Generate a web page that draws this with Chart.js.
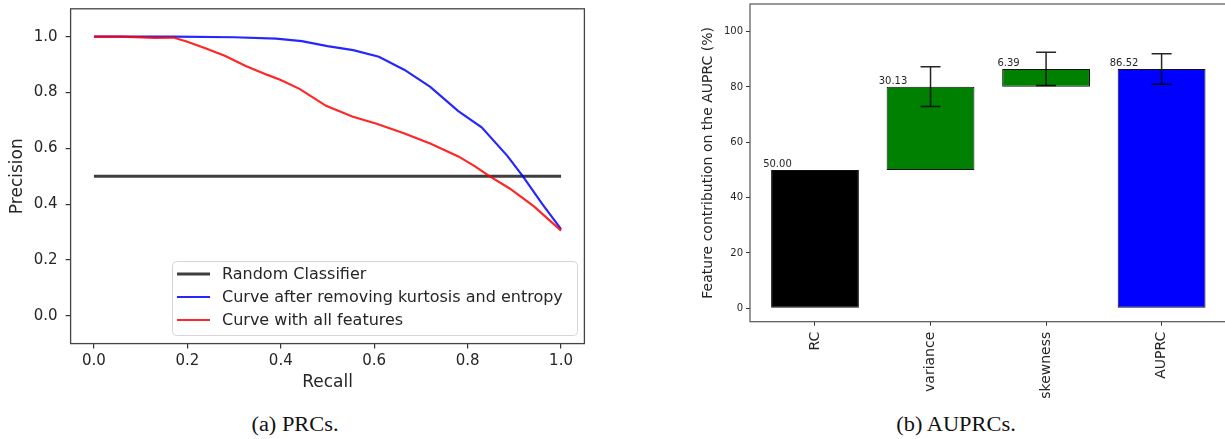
<!DOCTYPE html>
<html><head><meta charset="utf-8">
<script src="https://cdn.jsdelivr.net/npm/chart.js@4.4.1/dist/chart.umd.min.js"></script>
<style>
html,body{margin:0;padding:0;background:#fff;overflow:hidden;width:1225px;height:439px;}
#ca{position:absolute;left:0;top:0;}
#cb{position:absolute;left:690px;top:0;}
.cap{position:absolute;top:411px;width:220px;text-align:center;font-family:"Liberation Serif","Times New Roman",serif;font-size:20px;line-height:26px;color:#111;white-space:nowrap;transform:scaleX(1.12);}
</style></head><body>
<canvas id="ca" width="600" height="400"></canvas>
<canvas id="cb" width="545" height="400"></canvas>
<div class="cap" style="left:185px">(a) PRCs.</div>
<div class="cap" style="left:846px">(b) AUPRCs.</div>
<script>
// ---------- (a) PRC data ----------
const rcRecall = [0, 1];
const rcPrecision = [0.5, 0.5];
const blueRecall = [0, 0.17, 0.30, 0.39, 0.445, 0.50, 0.555, 0.61, 0.665, 0.72, 0.78, 0.83, 0.885, 0.918, 0.96, 1.0];
const bluePrecision = [1.0, 1.0, 0.998, 0.993, 0.984, 0.966, 0.952, 0.928, 0.881, 0.82, 0.733, 0.675, 0.573, 0.5, 0.4, 0.31];
const redRecall = [0, 0.06, 0.13, 0.17, 0.20, 0.24, 0.28, 0.325, 0.37, 0.40, 0.44, 0.497, 0.553, 0.605, 0.662, 0.72, 0.78, 0.815, 0.845, 0.89, 0.942, 1.0];
const redPrecision = [1.0, 1.0, 0.996, 0.997, 0.982, 0.958, 0.932, 0.895, 0.864, 0.845, 0.813, 0.752, 0.714, 0.688, 0.655, 0.617, 0.571, 0.536, 0.502, 0.456, 0.392, 0.305];
const seriesLabels = ['Random Classifier', 'Curve after removing kurtosis and entropy', 'Curve with all features'];
const prTicks = [0, 0.2, 0.4, 0.6, 0.8, 1.0];

// ---------- (b) AUPRC data ----------
const categories = ['RC', 'variance', 'skewness', 'AUPRC'];
const contributions = [50.00, 30.13, 6.39, 86.52];
const errors = [0, 7.2, 6.0, 5.5];
const barColors = ['#000000', '#008000', '#008000', '#0000ff'];
const aucTicks = [0, 20, 40, 60, 80, 100];

const FONT = 'DejaVu Sans';
const TXT = '#262626';

function pts(xs, ys){ return xs.map((x,i)=>({x:x, y:ys[i]})); }
function fixV(w){ return s => { s.width = w; s.paddingTop = 0; s.paddingBottom = 0; s.paddingLeft = 0; s.paddingRight = 0; }; }
function fixH(h){ return s => { s.height = h; s.paddingTop = 0; s.paddingBottom = 0; s.paddingLeft = 0; s.paddingRight = 0; }; }
function setTicks(vals){ return s => { s.ticks = vals.map(v => ({value: v})); }; }

const framePlugin = {
  id: 'frame',
  afterDatasetsDraw(chart, args, opts){
    const {ctx, chartArea: a} = chart;
    ctx.save();
    ctx.strokeStyle = opts.color || '#333';
    ctx.lineWidth = opts.width || 1;
    ctx.strokeRect(a.left, a.top, a.right - a.left, a.bottom - a.top);
    ctx.restore();
  }
};

const legendPlugin = {
  id: 'boxLegend',
  afterDraw(chart){
    const {ctx, chartArea: a} = chart;
    const w = 405, h = 74;
    const x0 = a.right - 7.4 - w, y0 = a.bottom - 8.6 - h;
    ctx.save();
    ctx.fillStyle = 'rgba(255,255,255,0.85)';
    ctx.strokeStyle = '#d6d6d6';
    ctx.lineWidth = 1;
    ctx.beginPath();
    ctx.roundRect(x0 + 0.5, y0 + 0.5, w, h, 4);
    ctx.fill(); ctx.stroke();
    ctx.font = '16px "' + FONT + '"';
    ctx.textBaseline = 'middle';
    chart.data.datasets.forEach((ds, i) => {
      const y = y0 + 13 + i * 23;
      ctx.strokeStyle = ds.borderColor;
      ctx.lineWidth = ds.borderWidth;
      ctx.beginPath(); ctx.moveTo(x0 + 5, y); ctx.lineTo(x0 + 38, y); ctx.stroke();
      ctx.fillStyle = TXT;
      ctx.fillText(ds.label, x0 + 50, y + 1);
    });
    ctx.restore();
  }
};

new Chart(document.getElementById('ca'), {
  type: 'line',
  data: {
    datasets: [
      {label: seriesLabels[0], data: pts(rcRecall, rcPrecision), borderColor: 'rgba(20,20,20,0.82)', borderWidth: 3, order: 2},
      {label: seriesLabels[1], data: pts(blueRecall, bluePrecision), borderColor: 'rgba(0,0,255,0.85)', borderWidth: 2.2, order: 1},
      {label: seriesLabels[2], data: pts(redRecall, redPrecision), borderColor: 'rgba(255,0,0,0.85)', borderWidth: 2.2, order: 0}
    ]
  },
  options: {
    responsive: false, animation: false, devicePixelRatio: 1,
    layout: {padding: {left: 0, top: 8.8, right: 15.6, bottom: 0}},
    elements: {point: {radius: 0}, line: {tension: 0, fill: false}},
    plugins: {legend: {display: false}, tooltip: {enabled: false}, frame: {color: '#444', width: 1.3}},
    scales: {
      x: {
        type: 'linear', min: -0.05, max: 1.05,
        afterBuildTicks: setTicks(prTicks), afterFit: fixH(56.4),
        ticks: {callback: v => Number(v).toFixed(1), font: {family: FONT, size: 15}, color: TXT, padding: 4, maxRotation: 0, autoSkip: false},
        grid: {drawOnChartArea: false, drawTicks: true, tickLength: 5, color: '#333', lineWidth: 1.2},
        border: {display: false},
        title: {display: true, text: 'Recall', font: {family: FONT, size: 17}, color: TXT, padding: {top: 0, bottom: 6.8}}
      },
      y: {
        type: 'linear', min: -0.1, max: 1.1,
        afterBuildTicks: setTicks(prTicks), afterFit: fixV(70.6),
        ticks: {callback: v => Number(v).toFixed(1), font: {family: FONT, size: 15}, color: TXT, padding: 8, autoSkip: false},
        grid: {drawOnChartArea: false, drawTicks: true, tickLength: 5, color: '#333', lineWidth: 1.2},
        border: {display: false},
        title: {display: true, text: 'Precision', font: {family: FONT, size: 17}, color: TXT, padding: {top: 7.8, bottom: 0}}
      }
    }
  },
  plugins: [framePlugin, legendPlugin]
});

// waterfall build
const bars = [];
let acc = 0;
for (let i = 0; i < contributions.length; i++) {
  if (i === contributions.length - 1) { bars.push({x: i, y: [0, contributions[i]]}); }
  else { bars.push({x: i, y: [acc, acc + contributions[i]]}); acc += contributions[i]; }
}

const errPlugin = {
  id: 'errs',
  afterDatasetsDraw(chart){
    const {ctx, scales: {x, y}} = chart;
    ctx.save();
    bars.forEach((b, i) => {
      const top = b.y[1];
      ctx.fillStyle = TXT;
      ctx.font = '10px "' + FONT + '"';
      ctx.textAlign = 'center';
      ctx.textBaseline = 'alphabetic';
      ctx.fillText(contributions[i].toFixed(2), x.getPixelForValue(i - 0.325), y.getPixelForValue(top + 1));
      if (!errors[i]) return;
      const px = x.getPixelForValue(i);
      const y1 = y.getPixelForValue(top + errors[i]);
      const y2 = y.getPixelForValue(top - errors[i]);
      ctx.strokeStyle = 'rgba(0,0,0,0.85)';
      ctx.lineWidth = 1.5;
      ctx.beginPath();
      ctx.moveTo(px, y1); ctx.lineTo(px, y2);
      ctx.moveTo(px - 10, y1); ctx.lineTo(px + 10, y1);
      ctx.moveTo(px - 10, y2); ctx.lineTo(px + 10, y2);
      ctx.stroke();
    });
    ctx.restore();
  }
};

new Chart(document.getElementById('cb'), {
  type: 'bar',
  data: {
    datasets: [{
      data: bars, backgroundColor: barColors, borderColor: '#111', borderWidth: 1, borderSkipped: false,
      barPercentage: 0.76, categoryPercentage: 1.0
    }]
  },
  options: {
    responsive: false, animation: false, devicePixelRatio: 1,
    layout: {padding: {left: 0, top: 4, right: 8.4, bottom: 0}},
    plugins: {legend: {display: false}, tooltip: {enabled: false}, frame: {color: '#555', width: 1.2}},
    scales: {
      x: {
        type: 'linear', min: -0.5625, max: 3.5625, offset: false,
        afterBuildTicks: setTicks([0, 1, 2, 3]), afterFit: fixH(78.3),
        ticks: {callback: v => categories[Math.round(v)], font: {family: FONT, size: 14}, color: TXT, padding: 6, minRotation: 90, maxRotation: 90, autoSkip: false},
        grid: {offset: false, drawOnChartArea: false, drawTicks: true, tickLength: 4, color: '#333', lineWidth: 1},
        border: {display: false}
      },
      y: {
        type: 'linear', min: -4.85, max: 110,
        afterBuildTicks: setTicks(aucTicks), afterFit: fixV(60),
        ticks: {callback: v => String(v), font: {family: FONT, size: 10}, color: TXT, padding: 3, autoSkip: false},
        grid: {offset: false, drawOnChartArea: false, drawTicks: true, tickLength: 4, color: '#333', lineWidth: 1},
        border: {display: false},
        title: {display: true, text: 'Feature contribution on the AUPRC (%)', font: {family: FONT, size: 14}, color: TXT, padding: {top: 9.6, bottom: 0}}
      }
    }
  },
  plugins: [framePlugin, errPlugin]
});
</script>
</body></html>
